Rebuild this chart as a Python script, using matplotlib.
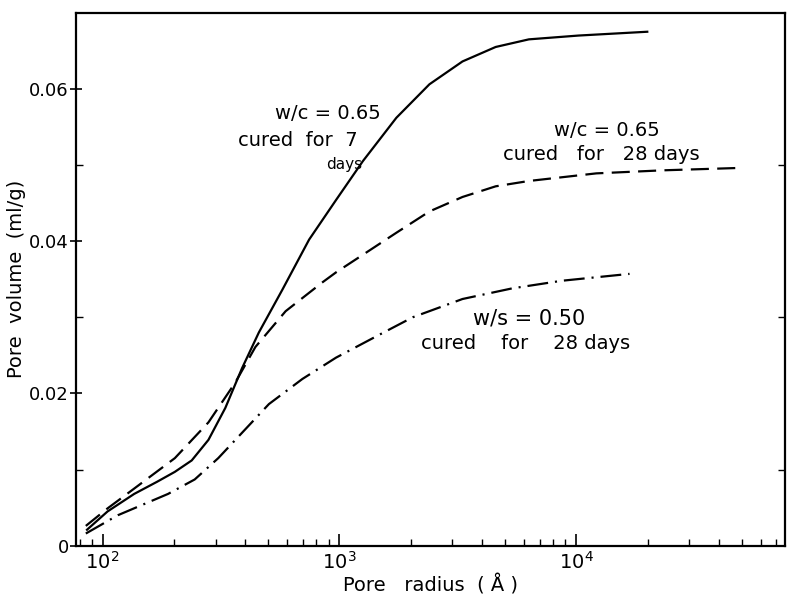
import numpy as np
import matplotlib
matplotlib.use("Agg")
import matplotlib.pyplot as plt
from matplotlib.ticker import LogLocator, FixedLocator, NullFormatter

# Data (pore radius in Angstrom, pore volume in ml/g)
radius_7d = [86, 105, 136, 170, 202, 238, 280, 330, 388, 457, 574, 745, 968,
             1256, 1740, 2400, 3310, 4570, 6310, 10230, 19950]
volume_7d = [0.0021, 0.0045, 0.0068, 0.0084, 0.0097, 0.0112, 0.0139, 0.0181,
             0.0233, 0.0280, 0.0336, 0.0402, 0.0454, 0.0505, 0.0562, 0.0606,
             0.0636, 0.0655, 0.0665, 0.0670, 0.0675]

radius_28d = [85, 105, 136, 202, 280, 363, 442, 593, 849, 968, 1343, 1740,
              2400, 3310, 4570, 6310, 12160, 23230, 47400]
volume_28d = [0.0026, 0.0049, 0.0075, 0.0115, 0.0162, 0.0214, 0.0261, 0.0308,
              0.0346, 0.0359, 0.0388, 0.0411, 0.0439, 0.0458, 0.0472, 0.0479,
              0.0489, 0.0493, 0.0496]

radius_ws = [85, 116, 189, 245, 308, 401, 504, 698, 968, 1432, 2040, 3310,
             5370, 8710, 16790]
volume_ws = [0.0016, 0.0040, 0.0068, 0.0087, 0.0115, 0.0153, 0.0186, 0.0219,
             0.0247, 0.0275, 0.0300, 0.0324, 0.0338, 0.0348, 0.0357]

y_ticks = [0, 0.02, 0.04, 0.06]
y_labels = ["0", "0.02", "0.04", "0.06"]
x_ticks = [1e2, 1e3, 1e4]
x_labels = ["$10^2$", "$10^3$", "$10^4$"]

plt.rcParams["lines.scale_dashes"] = False
plt.rcParams["font.family"] = "DejaVu Sans"

fig = plt.figure(figsize=(7.88, 6.05), dpi=100)
ax = fig.add_axes([0.096, 0.098, 0.9, 0.881])

# Curves
ax.plot(radius_7d, volume_7d, color="black", lw=1.6)
ax.plot(radius_28d, volume_28d, color="black", lw=1.6, dashes=(13, 6))
ax.plot(radius_ws, volume_ws, color="black", lw=1.6, dashes=(15, 5, 1.5, 5))

ax.set_xscale("log")
ax.set_xlim(77, 76000)
ax.set_ylim(0, 0.07)

# Ticks
ax.xaxis.set_major_locator(FixedLocator(x_ticks))
ax.set_xticklabels(x_labels, fontsize=14)
ax.xaxis.set_minor_locator(LogLocator(base=10, subs=np.arange(2, 10)))
ax.xaxis.set_minor_formatter(NullFormatter())
ax.set_yticks(y_ticks)
ax.set_yticklabels(y_labels, fontsize=13)
ax.set_yticks([0.01, 0.03, 0.05], minor=True)
ax.tick_params(axis="x", which="both", direction="in", top=False)
ax.tick_params(axis="x", which="major", length=9, width=1.2, pad=4)
ax.tick_params(axis="x", which="minor", length=5, width=1.0)
ax.tick_params(axis="y", which="major", direction="inout", length=8, width=1.2, pad=1)
ax.tick_params(axis="y", which="minor", direction="in", length=5, width=1.0,
               right=True)

for side in ax.spines.values():
    side.set_linewidth(1.6)

ax.set_xlabel("Pore   radius  ( Å )", fontsize=14, labelpad=1)
ax.set_ylabel("Pore  volume  (ml/g)", fontsize=14, labelpad=2)

# Curve labels
ax.text(890, 0.0567, "w/c = 0.65", fontsize=14, ha="center", va="center")
ax.text(665, 0.0532, "cured  for  7", fontsize=14, ha="center", va="center")
ax.text(1050, 0.0501, "days", fontsize=11, ha="center", va="center")
ax.text(13500, 0.0545, "w/c = 0.65", fontsize=14, ha="center", va="center")
ax.text(12700, 0.0514, "cured   for   28 days", fontsize=14, ha="center",
        va="center")
ax.text(6300, 0.0298, "w/s = 0.50", fontsize=15, ha="center", va="center")
ax.text(6100, 0.0265, "cured    for    28 days", fontsize=14, ha="center",
        va="center")

fig.savefig("out.png", dpi=100)
